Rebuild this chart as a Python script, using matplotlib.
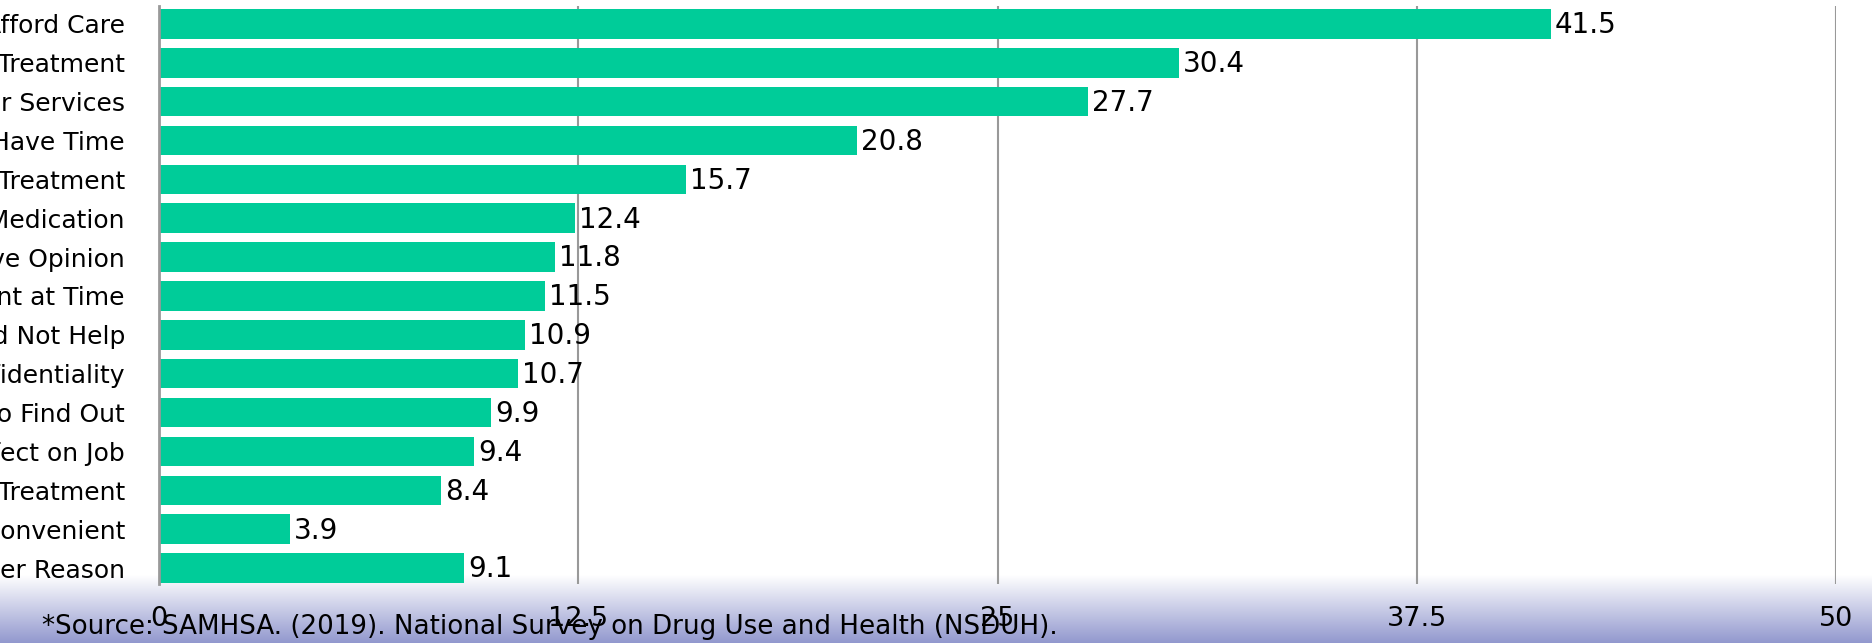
import numpy as np
import matplotlib
matplotlib.use("Agg")
import matplotlib.pyplot as plt

categories = [
    "Could Not Afford Care",
    "Thought Could Handle Problem Without Treatment",
    "Did Not Know Where to Go for Services",
    "Did Not Have Time",
    "Health Insurance Did Not Cover Enough Treatment",
    "Concerned About Being Committed or Having to Take Medication",
    "Neighbors or Community Might Have Negative Opinion",
    "Did Not Feel Need for Treatment at Time",
    "Thought Treatment Would Not Help",
    "Concerned About Confidentiality",
    "Did Not Want Others to Find Out",
    "Might Have Negative Effect on Job",
    "Health Insurance Does Not Cover Any Treatment",
    "Treatment Hours or Location Inconvenient",
    "Some Other Reason",
]
values = [41.5, 30.4, 27.7, 20.8, 15.7, 12.4, 11.8, 11.5, 10.9, 10.7, 9.9, 9.4, 8.4, 3.9, 9.1]
xticks = [0, 12.5, 25, 37.5, 50]
xtick_labels = ["0", "12.5", "25", "37.5", "50"]
source_text = "*Source: SAMHSA. (2019). National Survey on Drug Use and Health (NSDUH)."

plt.rcParams['font.family'] = ['DejaVu Sans']

W, H = 1872, 643
fig = plt.figure(figsize=(W / 100, H / 100), dpi=100)
fig.patch.set_facecolor("white")

# bottom gradient band
band_top = 575
bg = fig.add_axes([0, 0, 1, (H - band_top) / H], zorder=0)
top_c = np.array([1.0, 1.0, 1.0])
bot_c = np.array([146, 152, 206]) / 255.0
t = np.linspace(0, 1, 256)[:, None]
grad = (1 - t) * top_c + t * bot_c
grad = grad[:, None, :].repeat(2, axis=1)
bg.imshow(grad, aspect="auto", extent=[0, 1, 0, 1])
bg.set_axis_off()

# main axes (pixel geometry from the reference)
x0, x1 = 159, 1836
y_top, y_bot = 6, 584
ax = fig.add_axes([x0 / W, 1 - y_bot / H, (x1 - x0) / W, (y_bot - y_top) / H], zorder=1)
ax.set_facecolor("none")

y = np.arange(len(categories))
ax.barh(y, values, height=0.76, color="#00CC99", zorder=2)
ax.set_xlim(0, 50)
ax.set_ylim(14.41, -0.46)

ax.set_xticks(xticks)
ax.set_xticklabels(xtick_labels, fontsize=19.5)
ax.set_yticks(y)
ax.set_yticklabels(categories, fontsize=18)
ax.tick_params(axis="x", length=0, pad=15.5)
ax.tick_params(axis="y", length=0, pad=24.5)

for xv in xticks[1:]:
    ax.axvline(xv, color="#999999", linewidth=1.5, zorder=1)

for s in ["top", "right", "bottom"]:
    ax.spines[s].set_visible(False)
ax.spines["left"].set_color("#999999")
ax.spines["left"].set_linewidth(2)
ax.spines["left"].set_zorder(3)

for yi, v in zip(y, values):
    ax.annotate(f"{v}", xy=(v, yi), xytext=(3, -1), textcoords="offset points",
                va="center", ha="left", fontsize=20, color="black", zorder=4)

fig.text(42 / W, 1 - 627 / H, source_text, fontsize=18.8, va="center", ha="left",
         color="black", zorder=5)

fig.savefig("out.png", dpi=100)
